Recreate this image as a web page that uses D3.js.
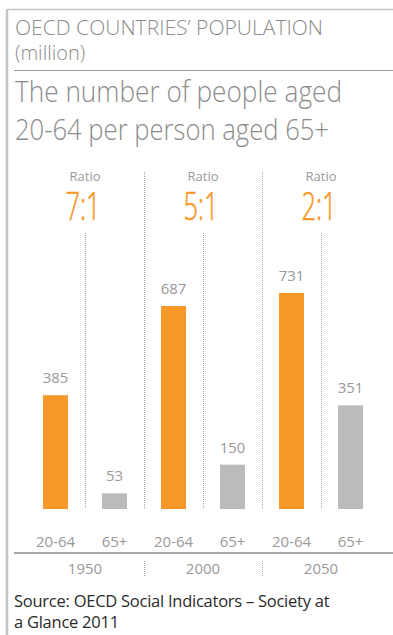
<!DOCTYPE html>
<html>
<head>
<meta charset="utf-8">
<script src="https://cdn.jsdelivr.net/npm/d3@7"></script>
<style>
  body { margin: 0; background: #fff; }
  svg { display: block; font-family: "Open Sans", sans-serif; }
</style>
</head>
<body>
<div class="canvas"></div>
<script>
// data
const years = ["1950", "2000", "2050"];
const ageGroups = ["20-64", "65+"];
const working = [385, 687, 731];
const elderly = [53, 150, 351];
const ratios = ["7:1", "5:1", "2:1"];

const width = 393;
const height = 635;
const baseY = 509;

const orange = "#f7982a";
const grey = "#bbbbbc";
const textGrey = "#8c8c8c";

const svg = d3
  .select(".canvas")
  .append("svg")
  .attr("width", width)
  .attr("height", height);

// frame
svg.append("line")
  .attr("x1", 7).attr("x2", width).attr("y1", 9.5).attr("y2", 9.5)
  .attr("stroke", "#c4c4c4").attr("stroke-width", 1.5);
svg.append("line")
  .attr("x1", 7).attr("x2", 7).attr("y1", 9).attr("y2", height)
  .attr("stroke", "#c4c4c4").attr("stroke-width", 2.5);
svg.append("line")
  .attr("x1", 14).attr("x2", width).attr("y1", 70.5).attr("y2", 70.5)
  .attr("stroke", "#9a9a9a").attr("stroke-width", 1.2);

// titles
svg.append("text")
  .attr("x", 15).attr("y", 35)
  .attr("fill", textGrey).attr("font-size", 20).attr("font-weight", 300)
  .attr("textLength", 308).attr("lengthAdjust", "spacingAndGlyphs")
  .text("OECD COUNTRIES’ POPULATION");
svg.append("text")
  .attr("x", 15).attr("y", 60)
  .attr("fill", textGrey).attr("font-size", 20).attr("font-weight", 300)
  .text("(million)");

const bigTitle = ["The number of people aged", "20-64 per person aged 65+"];
svg.selectAll(".big-title")
  .data(bigTitle)
  .enter()
  .append("text")
  .attr("class", "big-title")
  .attr("x", 15)
  .attr("y", (d, i) => 102 + i * 38)
  .attr("fill", textGrey).attr("font-size", 29).attr("font-weight", 300)
  .attr("textLength", (d, i) => (i === 0 ? 327 : 314))
  .attr("lengthAdjust", "spacingAndGlyphs")
  .text((d) => d);

// scales
const x0 = d3.scaleBand().domain(years).range([26, 380]);
const x1 = d3
  .scaleBand()
  .domain(ageGroups)
  .range([0, x0.bandwidth()])
  .paddingInner(0.576)
  .paddingOuter(0.288);
const y = d3.scaleLinear().domain([0, 731]).range([baseY, baseY - 216]);

const rows = years.map((yr, i) => ({
  year: yr,
  ratio: ratios[i],
  values: [
    { group: ageGroups[0], value: working[i] },
    { group: ageGroups[1], value: elderly[i] },
  ],
}));

const graph = svg.append("g");

// dotted dividers between years
graph.selectAll(".divider")
  .data(years.slice(1))
  .enter()
  .append("line")
  .attr("class", "divider")
  .attr("x1", (d) => x0(d) + 0.5).attr("x2", (d) => x0(d) + 0.5)
  .attr("y1", 172).attr("y2", baseY)
  .attr("stroke", "#a8a8a8").attr("stroke-width", 1)
  .attr("stroke-dasharray", "1,1");

// dotted centre lines inside each year
graph.selectAll(".centre")
  .data(years)
  .enter()
  .append("line")
  .attr("class", "centre")
  .attr("x1", (d) => x0(d) + x0.bandwidth() / 2 + 0.5)
  .attr("x2", (d) => x0(d) + x0.bandwidth() / 2 + 0.5)
  .attr("y1", 233).attr("y2", baseY)
  .attr("stroke", "#a8a8a8").attr("stroke-width", 1)
  .attr("stroke-dasharray", "1,1");

const yearGroups = graph.selectAll(".year")
  .data(rows)
  .enter()
  .append("g")
  .attr("class", "year")
  .attr("transform", (d) => `translate(${x0(d.year)},0)`);

// ratio labels
yearGroups.append("text")
  .attr("x", x0.bandwidth() / 2).attr("y", 181)
  .attr("text-anchor", "middle")
  .attr("fill", "#999").attr("font-size", 13)
  .text("Ratio");
yearGroups.append("text")
  .attr("x", x0.bandwidth() / 2 - 2).attr("y", 220)
  .attr("text-anchor", "middle")
  .attr("fill", orange).attr("font-size", 39).attr("font-weight", 300)
  .attr("stroke", orange).attr("stroke-width", 0.6)
  .attr("textLength", 35).attr("lengthAdjust", "spacingAndGlyphs")
  .text((d) => d.ratio);

// bars
yearGroups.selectAll("rect")
  .data((d) => d.values)
  .enter()
  .append("rect")
  .attr("x", (d) => x1(d.group))
  .attr("y", (d) => y(d.value))
  .attr("width", x1.bandwidth())
  .attr("height", (d) => baseY - y(d.value))
  .attr("fill", (d, i) => (i === 0 ? orange : grey));

// value labels
yearGroups.selectAll(".value")
  .data((d) => d.values)
  .enter()
  .append("text")
  .attr("class", "value")
  .attr("x", (d) => x1(d.group) + x1.bandwidth() / 2)
  .attr("y", (d) => y(d.value) - 12)
  .attr("text-anchor", "middle")
  .attr("fill", "#999").attr("font-size", 15)
  .text((d) => d.value);

// age group labels
yearGroups.selectAll(".age")
  .data((d) => d.values)
  .enter()
  .append("text")
  .attr("class", "age")
  .attr("x", (d) => x1(d.group) + x1.bandwidth() / 2)
  .attr("y", 547)
  .attr("text-anchor", "middle")
  .attr("fill", "#999").attr("font-size", 15)
  .text((d) => d.group);

// year axis
const xAxis = d3.axisBottom(x0).tickSize(0).tickPadding(0);
const axisGroup = svg.append("g")
  .attr("transform", "translate(0,553)")
  .call(xAxis);
axisGroup.select(".domain").remove();
axisGroup.selectAll("text")
  .attr("dy", 0).attr("y", 21)
  .attr("fill", "#999").attr("font-size", 15)
  .attr("font-family", "Open Sans, sans-serif");

svg.append("line")
  .attr("x1", 14).attr("x2", width).attr("y1", 553).attr("y2", 553)
  .attr("stroke", "#a8a8a8").attr("stroke-width", 2);

svg.selectAll(".year-divider")
  .data(years.slice(1))
  .enter()
  .append("line")
  .attr("class", "year-divider")
  .attr("x1", (d) => x0(d) + 0.5).attr("x2", (d) => x0(d) + 0.5)
  .attr("y1", 561).attr("y2", 576)
  .attr("stroke", "#a8a8a8").attr("stroke-width", 1)
  .attr("stroke-dasharray", "1,1");

// source
const source = ["Source: OECD Social Indicators – Society at", "a Glance 2011"];
svg.selectAll(".source")
  .data(source)
  .enter()
  .append("text")
  .attr("class", "source")
  .attr("x", 14)
  .attr("y", (d, i) => 607 + i * 21)
  .attr("fill", "#2a2a2a").attr("font-size", 16.5)
  .attr("letter-spacing", -0.25)
  .text((d) => d);
</script>
</body>
</html>
